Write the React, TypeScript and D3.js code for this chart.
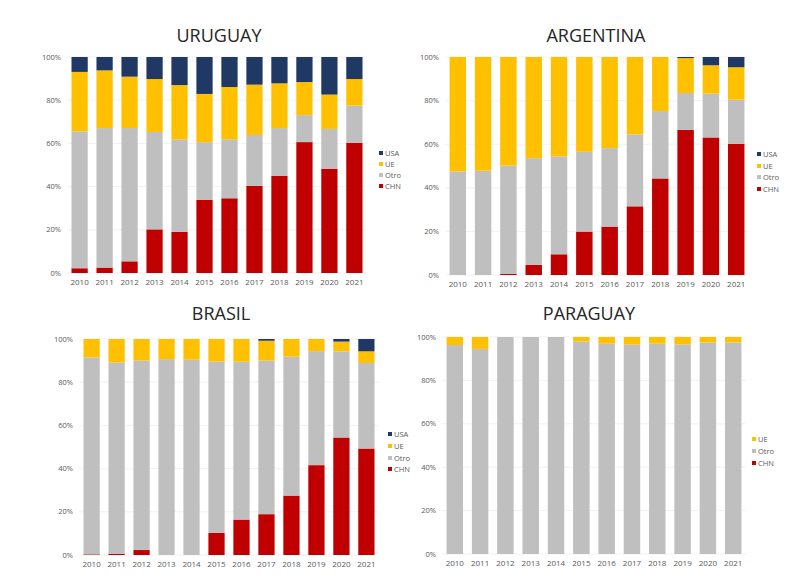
import * as d3 from 'd3';

const years = ['2010', '2011', '2012', '2013', '2014', '2015', '2016', '2017', '2018', '2019', '2020', '2021'];
const yTicks = [0, 20, 40, 60, 80, 100];

// shares in percent, stacked bottom-up: CHN, Otro, UE, USA
const uruguayChn = [2.2, 2.5, 5.4, 20.2, 19.1, 33.8, 34.6, 40.3, 44.9, 60.6, 48.3, 60.2];
const uruguayOtro = [63.4, 64.6, 61.7, 45.1, 42.8, 26.8, 27.3, 23.6, 22.2, 12.5, 18.4, 17.3];
const uruguayUe = [27.5, 26.7, 23.8, 24.5, 25.1, 22.3, 24.2, 23.3, 20.7, 15.3, 15.9, 12.3];
const uruguayUsa = [6.9, 6.2, 9.1, 10.2, 13.0, 17.1, 13.9, 12.8, 12.2, 11.6, 17.4, 10.2];

const argentinaChn = [0, 0, 0.5, 4.6, 9.5, 19.9, 22.2, 31.5, 44.3, 66.6, 63.1, 60.2];
const argentinaOtro = [47.5, 47.8, 49.7, 49.0, 44.9, 36.6, 36.0, 33.0, 30.9, 16.9, 20.1, 20.2];
const argentinaUe = [52.5, 52.2, 49.8, 46.4, 45.6, 43.5, 41.8, 35.5, 24.8, 16.0, 13.0, 14.9];
const argentinaUsa = [0, 0, 0, 0, 0, 0, 0, 0, 0, 0.5, 3.8, 4.7];

const brasilChn = [0.3, 0.5, 2.3, 0, 0, 10.2, 16.4, 18.9, 27.5, 41.6, 54.4, 49.3];
const brasilOtro = [91.2, 88.7, 87.7, 90.7, 90.4, 79.4, 73.1, 71.1, 64.3, 52.8, 39.9, 39.6];
const brasilUe = [8.5, 10.8, 10.0, 9.3, 9.6, 10.4, 10.5, 9.2, 8.2, 5.6, 4.5, 5.4];
const brasilUsa = [0, 0, 0, 0, 0, 0, 0, 0.8, 0, 0, 1.2, 5.7];

const paraguayChn = [0, 0, 0, 0, 0, 0, 0, 0, 0, 0, 0, 0];
const paraguayOtro = [96.3, 94.5, 100, 100, 100, 98.0, 96.9, 96.5, 96.9, 96.6, 97.5, 97.5];
const paraguayUe = [3.7, 5.5, 0, 0, 0, 2.0, 3.1, 3.5, 3.1, 3.4, 2.5, 2.5];

const colors: Record<string, string> = {
  CHN: '#c00000',
  Otro: '#bfbfbf',
  UE: '#ffc000',
  USA: '#1f3864',
};

const FONT = "'Open Sans', 'DejaVu Sans', sans-serif";

type Row = { year: string; [k: string]: number | string };

type PanelProps = {
  title: string;
  titleX: number;
  titleY: number;
  series: Record<string, number[]>;
  left: number;
  right: number;
  top: number;
  bottom: number;
  legendX: number;
  legendY: number[];
};

const Panel = ({ title, titleX, titleY, series, left, right, top, bottom, legendX, legendY }: PanelProps) => {
  const keys = Object.keys(series); // bottom-up order
  const rows: Row[] = years.map((year, i) => {
    const r: Row = { year };
    keys.forEach((k) => (r[k] = series[k][i]));
    return r;
  });

  const x = d3.scaleBand<string>().domain(years).range([left, right]).paddingInner(0.35).paddingOuter(0.18);
  const y = d3.scaleLinear().domain([0, 100]).range([bottom, top]);
  const stacked = d3.stack<Row>().keys(keys)(rows);
  const legendKeys = [...keys].reverse();

  return (
    <g>
      <text x={titleX} y={titleY} textAnchor="middle" fontFamily={FONT} fontSize={18} fill="#262626">
        {title}
      </text>
      {yTicks.map((t) => (
        <g key={t}>
          <line x1={left} x2={right} y1={y(t)} y2={y(t)} stroke="#eeeeee" strokeWidth={0.8} />
          <text
            x={left - 6}
            y={y(t)}
            dy="0.35em"
            textAnchor="end"
            fontFamily={FONT}
            fontSize={7.5}
            fill="#595959"
          >
            {t}%
          </text>
        </g>
      ))}
      {stacked.map((layer) => (
        <g key={layer.key} fill={colors[layer.key]}>
          {layer.map((d, i) =>
            d[1] - d[0] <= 0 ? null : (
              <rect
                key={i}
                x={x(years[i])}
                width={x.bandwidth()}
                y={y(d[1])}
                height={y(d[0]) - y(d[1])}
              />
            )
          )}
        </g>
      ))}
      {years.map((yr) => (
        <text
          key={yr}
          x={(x(yr) ?? 0) + x.bandwidth() / 2}
          y={bottom + 12}
          textAnchor="middle"
          fontFamily={FONT}
          fontSize={8}
          fill="#595959"
        >
          {yr}
        </text>
      ))}
      {legendKeys.map((k, i) => (
        <g key={k}>
          <rect x={legendX} y={legendY[i] - 2} width={4} height={4} fill={colors[k]} />
          <text x={legendX + 6} y={legendY[i]} dy="0.35em" fontFamily={FONT} fontSize={7.5} fill="#595959">
            {k}
          </text>
        </g>
      ))}
    </g>
  );
};

export default function App() {
  return (
    <svg width={790} height={585} style={{ position: 'absolute', left: 0, top: 0, background: '#fff' }}>
      <rect width={790} height={585} fill="#fff" />
      <Panel
        title="URUGUAY"
        titleX={219}
        titleY={42}
        series={{ CHN: uruguayChn, Otro: uruguayOtro, UE: uruguayUe, USA: uruguayUsa }}
        left={67}
        right={367}
        top={57}
        bottom={273}
        legendX={379}
        legendY={[153, 164, 175, 186]}
      />
      <Panel
        title="ARGENTINA"
        titleX={596}
        titleY={42}
        series={{ CHN: argentinaChn, Otro: argentinaOtro, UE: argentinaUe, USA: argentinaUsa }}
        left={445}
        right={749}
        top={57}
        bottom={275}
        legendX={757}
        legendY={[154, 166, 177, 189]}
      />
      <Panel
        title="BRASIL"
        titleX={221}
        titleY={320}
        series={{ CHN: brasilChn, Otro: brasilOtro, UE: brasilUe, USA: brasilUsa }}
        left={79}
        right={379}
        top={339}
        bottom={555}
        legendX={388}
        legendY={[434, 446, 458, 469]}
      />
      <Panel
        title="PARAGUAY"
        titleX={589}
        titleY={320}
        series={{ CHN: paraguayChn, Otro: paraguayOtro, UE: paraguayUe }}
        left={442}
        right={746}
        top={337}
        bottom={554}
        legendX={752}
        legendY={[439, 451, 463]}
      />
    </svg>
  );
}
